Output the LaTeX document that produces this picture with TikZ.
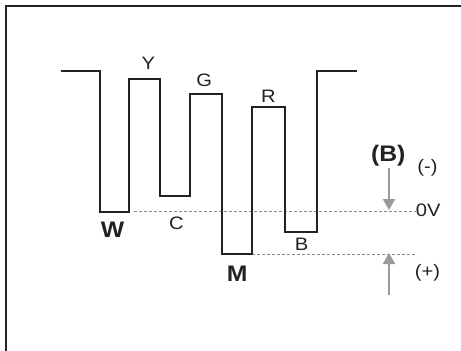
\documentclass[tikz,border=0pt]{standalone}
\usepackage{fontspec}
\setmainfont{Liberation Sans}
\usetikzlibrary{arrows.meta}
\definecolor{ink}{HTML}{222222}
\definecolor{dashgray}{HTML}{8A8A8A}
\definecolor{arrgray}{HTML}{9A9A9A}
\begin{document}
\begin{tikzpicture}[x=1pt,y=-1pt,
  frame/.style={line width=2pt,draw=ink},
  wave/.style={line width=1.8pt,draw=ink,line join=miter},
  level/.style={line width=1pt,draw=dashgray,dash pattern=on 3pt off 2pt},
  pol/.style={line width=2.2pt,draw=arrgray,-{Triangle[width=12pt,length=11pt]}},
  lab/.style={inner sep=0pt,anchor=base,font=\fontsize{18}{20}\selectfont,xscale=1.12,text=ink},
  blab/.style={inner sep=0pt,anchor=base,font=\fontsize{22.5}{25}\bfseries,xscale=1.1,text=ink}]
\useasboundingbox (0,0) rectangle (461,351);
\fill[white] (0,0) rectangle (461,351);
% frame (top and left)
\draw[frame] (461,5.5) -- (5.5,5.5) -- (5.5,351);
% dashed levels
\coordinate (z0) at (134,211);
\coordinate (z1) at (416,211);
\coordinate (m0) at (252,254);
\coordinate (m1) at (416,254);
\draw[level] (z0) -- (z1);
\draw[level] (m0) -- (m1);
% waveform
\draw[wave] (60.7,71) -- (100,71) -- (100,212) -- (129,212) -- (129,78.7)
  -- (160,78.7) -- (160,196) -- (190,196) -- (190,94.3) -- (222,94.3)
  -- (222,254) -- (252,254) -- (252,106.7) -- (285,106.7) -- (285,231.7)
  -- (317,231.7) -- (317,71) -- (356.7,71);
% arrows
\coordinate (a0) at (389,168);
\coordinate (a1) at (389,210);
\coordinate (b0) at (389,295);
\coordinate (b1) at (389,253);
\draw[pol] (a0) -- (a1);
\draw[pol] (b0) -- (b1);
% labels
\node[lab] (ly) at (148.3,69.3) {Y};
\node[lab] (lg) at (204.3,86.2) {G};
\node[lab] (lr) at (268.3,102.3) {R};
\node[lab] (lc) at (176.5,229.5) {C};
\node[lab] (lb) at (301.7,250) {B};
\node[blab] (lw) at (112.5,237.7) {W};
\node[blab] (lm) at (237.3,281.7) {M};
\node[blab] (lbb) at (388.3,161.7) {(B)};
\node[lab] (lminus) at (427.5,172.9) {(-)};
\node[lab] (l0v) at (428.3,216.7) {0V};
\node[lab] (lplus) at (427.5,277.9) {(+)};
\end{tikzpicture}
\end{document}
